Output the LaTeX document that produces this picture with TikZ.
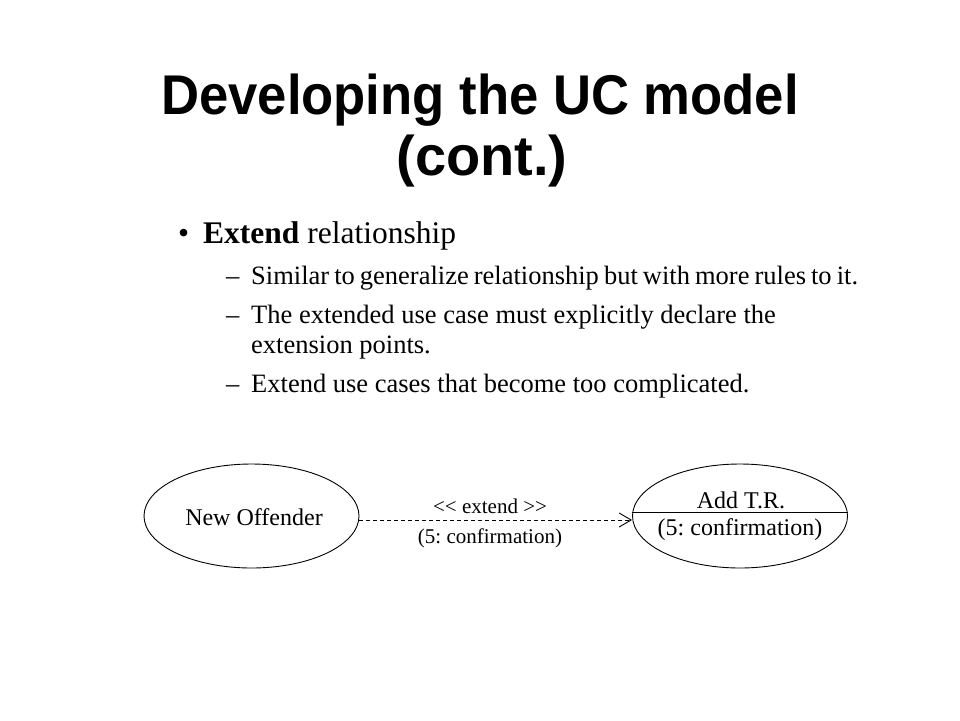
\documentclass[tikz,border=0pt]{standalone}
\usepackage{fontspec}
\setmainfont{Liberation Serif}
\newfontfamily\titlefont{Liberation Sans}
\usetikzlibrary{arrows.meta,shapes.geometric}
\frenchspacing
\begin{document}
\begin{tikzpicture}[x=1pt,y=-1pt,
  titletext/.style={anchor=base,inner sep=0pt,font=\titlefont\bfseries\fontsize{56}{60}\selectfont},
  lvlone/.style={anchor=base west,inner sep=0pt,font=\fontsize{31.5}{36}\selectfont},
  lvltwo/.style={anchor=base west,inner sep=0pt,font=\fontsize{26.5}{30}\selectfont},
  usecase/.style={draw,ellipse,line width=0.9pt,minimum width=215pt,minimum height=104pt,inner sep=0pt},
  uctext/.style={anchor=base,inner sep=0pt,font=\fontsize{24}{28}\selectfont},
  lbltext/.style={anchor=base,inner sep=0pt,font=\fontsize{21}{24}\selectfont},
  extarrow/.style={line width=0.9pt,dash pattern=on 4pt off 3pt,-{Straight Barb[length=12pt,width=14pt,line width=0.9pt]}}
]
\useasboundingbox[fill=white] (0,0) rectangle (960,720);
% title
\node[titletext,xscale=0.94,transform shape] (t1) at (480,114) {Developing the UC model};
\node[titletext] (t2) at (482,175) {(cont.)};
% bullets
\node[lvlone] (b1) at (178,243) {•};
\node[lvlone] (l1) at (203,243) {\textbf{Extend} relationship};
\node[lvltwo] (d1) at (226,284) {–};
\node[lvltwo] (s1) at (251,284) {\spaceskip=0.19em Similar to generalize relationship but with more rules to it.};
\node[lvltwo] (d2) at (226,323) {–};
\node[lvltwo] (s2) at (251,323) {The extended use case must explicitly declare the};
\node[lvltwo] (s2b) at (251,353) {extension points.};
\node[lvltwo] (d3) at (226,392) {–};
\node[lvltwo] (s3) at (251,392) {Extend use cases that become too complicated.};
% diagram
\node[usecase] (no) at (251.5,516) {};
\node[uctext] (notext) at (254,525) {New Offender};
\node[usecase] (tr) at (740,516) {};
\draw[line width=0.9pt] ([yshift=4pt]tr.west) -- ([yshift=4pt]tr.east);
\node[uctext] (trname) at (741,508) {Add T.R.};
\node[uctext] (trpoint) at (740,535) {(5: confirmation)};
\draw[extarrow] ([yshift=-4pt]no.east) -- ([yshift=-4pt]tr.west);
\node[lbltext] (ext) at (490,513) {<\kern0pt< extend >\kern0pt>};
\node[lbltext] (extpt) at (490,543) {(5: confirmation)};
\end{tikzpicture}
\end{document}
